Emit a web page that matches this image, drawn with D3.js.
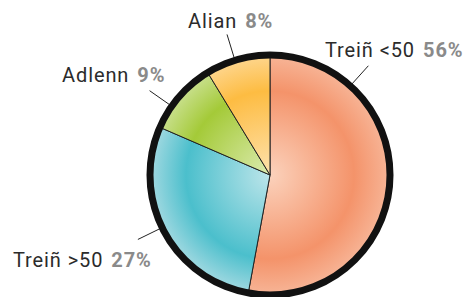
<!DOCTYPE html>
<html>
<head>
<meta charset="utf-8">
<script src="https://cdn.jsdelivr.net/npm/d3@7"></script>
<style>
  body { margin: 0; background: #fff; }
  svg { display: block; overflow: hidden; }
  text { font-family: Roboto, "Noto Sans", sans-serif; font-size: 20px; letter-spacing: 0.9px; }
</style>
</head>
<body>
<div id="container"></div>
<script>
// slice names, drawn shares and the printed percentages
const categories = ["Treiñ <50", "Treiñ >50", "Adlenn", "Alian"];
const shares = [52.9, 28.6, 9.8, 8.7];
const percentLabels = ["56%", "27%", "9%", "8%"];

const w = 470;
const h = 297;
const cx = 270, cy = 175;
const radius = 120;

// gradient colours per slice: centre, strongest ring, rim
const palette = [
    ["#fbd2bc", "#f4936a", "#f7b597"],
    ["#bde5ea", "#4bbfcc", "#a2d9e1"],
    ["#dcebb0", "#a4ca38", "#c9e08e"],
    ["#fee2ae", "#fdbc42", "#fed68e"]
];

// where each label sits and the angle its leader line leaves the ring
const labelPos = [
    {x: 325, y: 57, angle: 42},
    {x: 13, y: 267, angle: 244},
    {x: 62, y: 82, angle: 305},
    {x: 188, y: 28, angle: 343}
];

const svg = d3.select("#container")
    .append("svg")
    .attr("width", w)
    .attr("height", h);

const defs = svg.append("defs");
palette.forEach((c, i) => {
    const g = defs.append("radialGradient")
        .attr("id", "grad" + i)
        .attr("gradientUnits", "userSpaceOnUse")
        .attr("cx", 0).attr("cy", 0).attr("r", radius);
    g.append("stop").attr("offset", "0%").attr("stop-color", c[0]);
    g.append("stop").attr("offset", "70%").attr("stop-color", c[1]);
    g.append("stop").attr("offset", "100%").attr("stop-color", c[2]);
});

const pie = d3.pie().sort(null).value((d) => d);
const arcs = pie(shares);
const arc = d3.arc().innerRadius(0).outerRadius(radius);

const rad = (deg) => deg * Math.PI / 180;

// leader lines
svg.append("g")
    .selectAll("line")
    .data(labelPos)
    .enter()
    .append("line")
    .attr("x1", (d) => cx + Math.sin(rad(d.angle)) * radius)
    .attr("y1", (d) => cy - Math.cos(rad(d.angle)) * radius)
    .attr("x2", (d) => cx + Math.sin(rad(d.angle)) * 147)
    .attr("y2", (d) => cy - Math.cos(rad(d.angle)) * 147)
    .attr("stroke", "#222")
    .attr("stroke-width", 1);

const pieG = svg.append("g")
    .attr("transform", "translate(" + cx + "," + cy + ")");

pieG.selectAll("path")
    .data(arcs)
    .enter()
    .append("path")
    .attr("d", arc)
    .attr("fill", (d, i) => "url(#grad" + i + ")")
    .attr("stroke", "#222")
    .attr("stroke-width", 1);

pieG.append("circle")
    .attr("r", radius)
    .attr("fill", "none")
    .attr("stroke", "#111")
    .attr("stroke-width", 7);

const labels = svg.append("g")
    .selectAll("text")
    .data(categories)
    .enter()
    .append("text")
    .attr("x", (d, i) => labelPos[i].x)
    .attr("y", (d, i) => labelPos[i].y);

labels.append("tspan")
    .attr("fill", "#2b2b2b")
    .text((d) => d);

labels.append("tspan")
    .attr("dx", 8)
    .attr("fill", "#8a8a8a")
    .attr("font-weight", "bold")
    .text((d, i) => percentLabels[i]);
</script>
</body>
</html>
